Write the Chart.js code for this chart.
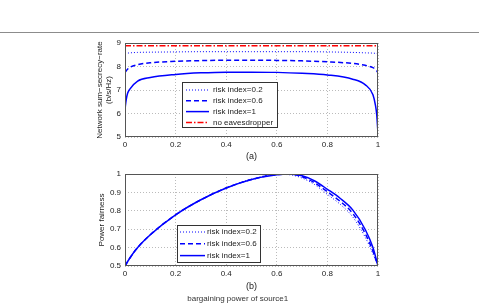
<!DOCTYPE html>
<html>
<head>
<meta charset="utf-8">
<script src="https://cdn.jsdelivr.net/npm/chart.js@4.4.1/dist/chart.umd.min.js"></script>
<style>
body { margin:0; background:#fff; width:479px; height:306px; position:relative; overflow:hidden; }
#rule { position:absolute; left:0; top:32px; width:479px; height:1px; background:#8c8c8c; }
#c1 { position:absolute; left:0; top:0; }
#c2 { position:absolute; left:0; top:162px; }
</style>
</head>
<body>
<div id="rule"></div>
<canvas id="c1" width="479" height="162"></canvas>
<canvas id="c2" width="479" height="144"></canvas>
<script>
// (a) secrecy rate vs bargaining power
const powerA = [0, 0.005, 0.01, 0.02, 0.05, 0.1, 0.2, 0.3, 0.4, 0.5, 0.6, 0.7, 0.8, 0.9, 0.95, 0.98, 0.99, 0.995, 1];
const rateRisk02 = [8.55, 8.56, 8.57, 8.58, 8.6, 8.61, 8.62, 8.63, 8.63, 8.63, 8.63, 8.63, 8.62, 8.6, 8.58, 8.57, 8.56, 8.55, 8.52];
const rateRisk06 = [7.75, 7.82, 7.88, 7.97, 8.08, 8.16, 8.22, 8.25, 8.27, 8.27, 8.26, 8.24, 8.2, 8.13, 8.05, 7.95, 7.88, 7.82, 7.72];
const rateRisk1  = [6.2, 6.6, 6.85, 7.05, 7.38, 7.53, 7.66, 7.73, 7.76, 7.76, 7.75, 7.71, 7.64, 7.46, 7.22, 6.8, 6.35, 5.95, 5.15];
const rateNoEve  = [8.88, 8.88, 8.88, 8.88, 8.88, 8.88, 8.88, 8.88, 8.88, 8.88, 8.88, 8.88, 8.88, 8.88, 8.88, 8.88, 8.88, 8.88, 8.88];

// (b) power fairness vs bargaining power
const powerB = [0, 0.02, 0.05, 0.1, 0.2, 0.3, 0.4, 0.5, 0.6, 0.65, 0.7, 0.75, 0.8, 0.85, 0.9, 0.95, 0.98, 1];
const fairRisk02 = [0.5, 0.545, 0.6, 0.67, 0.778, 0.86, 0.924, 0.972, 0.998, 0.996, 0.978, 0.942, 0.889, 0.836, 0.767, 0.655, 0.566, 0.5];
const fairRisk06 = [0.5, 0.545, 0.6, 0.67, 0.778, 0.86, 0.924, 0.97, 0.997, 0.999, 0.985, 0.952, 0.903, 0.852, 0.786, 0.675, 0.58, 0.5];
const fairRisk1  = [0.5, 0.545, 0.6, 0.67, 0.778, 0.86, 0.924, 0.97, 0.996, 1.0, 0.99, 0.962, 0.917, 0.868, 0.805, 0.697, 0.6, 0.5];

const xTicks = [0, 0.2, 0.4, 0.6, 0.8, 1];

Chart.defaults.font.family = '"Liberation Sans", Arial, sans-serif';
Chart.defaults.color = '#222';

function pts(xs, ys) {
    return xs.map((x, i) => ({ x: x, y: ys[i] }));
}

function line(label, xs, ys, color, width, dash) {
    return {
        label: label, data: pts(xs, ys), borderColor: color, borderWidth: width,
        borderDash: dash, pointRadius: 0, fill: false, cubicInterpolationMode: 'monotone'
    };
}

// box round the plot area + legend box inside it
const framePlugin = {
    id: 'frame',
    afterDraw(chart, args, opts) {
        const ctx = chart.ctx;
        const a = chart.chartArea;
        ctx.save();
        ctx.strokeStyle = '#555';
        ctx.lineWidth = 1;
        ctx.setLineDash([]);
        ctx.strokeRect(Math.round(a.left) + 0.5, Math.round(a.top) + 0.5,
            Math.round(a.right - a.left) - 1, Math.round(a.bottom - a.top) - 1);

        const lg = opts.legend;
        ctx.fillStyle = '#fff';
        ctx.fillRect(lg.x, lg.y, lg.w, lg.h);
        ctx.strokeStyle = '#333';
        ctx.strokeRect(lg.x + 0.5, lg.y + 0.5, lg.w, lg.h);
        ctx.font = '8px "Liberation Sans", Arial, sans-serif';
        ctx.textBaseline = 'middle';
        chart.data.datasets.forEach((ds, i) => {
            const y = lg.y + lg.first + i * lg.row;
            ctx.strokeStyle = ds.borderColor;
            ctx.lineWidth = ds.borderWidth;
            ctx.setLineDash(ds.borderDash || []);
            ctx.beginPath();
            ctx.moveTo(lg.x0, y);
            ctx.lineTo(lg.x1, y);
            ctx.stroke();
            ctx.setLineDash([]);
            ctx.fillStyle = '#222';
            ctx.fillText(ds.label, lg.tx, y);
        });
        ctx.restore();
    }
};

const fmt = v => String(+Number(v).toFixed(2));

function axisX(title, h, padB) {
    return {
        type: 'linear', min: 0, max: 1,
        afterBuildTicks: s => { s.ticks = xTicks.map(v => ({ value: v })); },
        afterFit: s => { s.height = h; },
        grid: { color: '#bbb', drawTicks: false },
        border: { display: false, dash: [1, 2] },
        ticks: { font: { size: 8 }, padding: 3, maxRotation: 0, callback: fmt },
        title: { display: true, text: title, font: { size: 9, lineHeight: 1.2 }, color: '#222', padding: { top: 0, bottom: padB } }
    };
}

function axisY(min, max, step, title, w) {
    return {
        min: min, max: max,
        afterFit: s => { s.width = w; },
        grid: { color: '#bbb', drawTicks: false },
        border: { display: false, dash: [1, 2] },
        ticks: { stepSize: step, font: { size: 8 }, padding: 4, callback: fmt },
        title: { display: true, text: title, font: { size: 8, lineHeight: 1.125 }, color: '#222', padding: { top: 0, bottom: 0 } }
    };
}

const blue = '#0000ff';

new Chart(document.getElementById('c1'), {
    type: 'line',
    data: {
        datasets: [
            line('risk index=0.2', powerA, rateRisk02, blue, 1, [1, 2]),
            line('risk index=0.6', powerA, rateRisk06, blue, 1.5, [5, 3]),
            line('risk index=1', powerA, rateRisk1, blue, 1.5, []),
            line('no eavesdropper', powerA, rateNoEve, '#ff0000', 1.5, [6, 2, 1.5, 2])
        ]
    },
    options: {
        responsive: false, animation: false,
        layout: { padding: { left: 95.5, right: 101, top: 43, bottom: 0 } },
        scales: {
            x: axisX('(a)', 25, 0),
            y: axisY(5, 9, 1, ['Network sum\u2212secrecy\u2212rate', '(b/s/Hz)'], 29.5)
        },
        plugins: {
            legend: { display: false },
            tooltip: { enabled: false },
            frame: { legend: { x: 182, y: 82, w: 95, h: 45, first: 8, row: 10.8, x0: 186, x1: 209, tx: 213 } }
        }
    },
    plugins: [framePlugin]
});

new Chart(document.getElementById('c2'), {
    type: 'line',
    data: {
        datasets: [
            line('risk index=0.2', powerB, fairRisk02, blue, 1, [1, 2]),
            line('risk index=0.6', powerB, fairRisk06, blue, 1.5, [5, 3]),
            line('risk index=1', powerB, fairRisk1, blue, 1.5, [])
        ]
    },
    options: {
        responsive: false, animation: false,
        layout: { padding: { left: 97.5, right: 101, top: 12, bottom: 0 } },
        scales: {
            x: axisX('(b)', 28, 2),
            y: axisY(0.5, 1, 0.1, 'Power fairness', 27.5)
        },
        plugins: {
            legend: { display: false },
            tooltip: { enabled: false },
            title: {
                display: true, position: 'bottom', text: 'bargaining power of source1',
                font: { size: 8, weight: 'normal', lineHeight: 1.25 }, color: '#333', padding: { top: 0, bottom: 2 }
            },
            frame: { legend: { x: 177, y: 63, w: 83, h: 37, first: 7, row: 11.8, x0: 180, x1: 205, tx: 207 } }
        }
    },
    plugins: [framePlugin]
});
</script>
</body>
</html>
